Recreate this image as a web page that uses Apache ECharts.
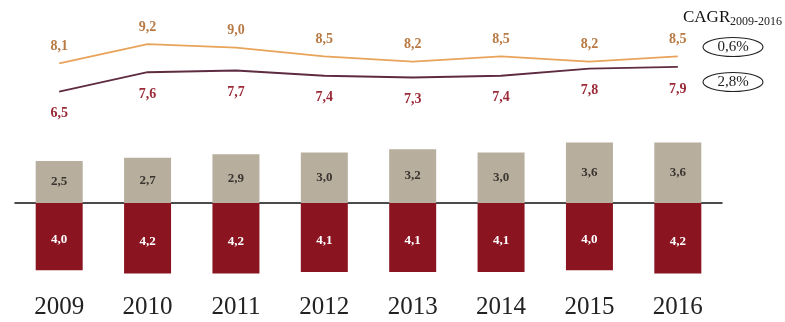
<!DOCTYPE html>
<html>
<head>
<meta charset="utf-8">
<script src="https://cdn.jsdelivr.net/npm/echarts@6/dist/echarts.min.js"></script>
<style>
  html, body { margin: 0; padding: 0; background: #fff; }
  #main { width: 785px; height: 322px; }
</style>
</head>
<body>
<div id="main"></div>
<script>
  // data
  const years = ["2009", "2010", "2011", "2012", "2013", "2014", "2015", "2016"];
  const upperLine = [8.1, 9.2, 9.0, 8.5, 8.2, 8.5, 8.2, 8.5];
  const lowerLine = [6.5, 7.6, 7.7, 7.4, 7.3, 7.4, 7.8, 7.9];
  const grayBars = [2.5, 2.7, 2.9, 3.0, 3.2, 3.0, 3.6, 3.6];
  const redBars = [4.0, 4.2, 4.2, 4.1, 4.1, 4.1, 4.0, 4.2];
  const cagrLabels = ["0,6%", "2,8%"];

  const fmt = (v) => Math.abs(v).toFixed(1).replace(".", ",");
  const serif = "Liberation Serif";

  let chart = echarts.init(document.getElementById("main"));

  function ring(y, text) {
    return [
      {
        type: "ellipse",
        shape: { cx: 733, cy: y, rx: 30, ry: 9.5 },
        style: { fill: "none", stroke: "#222", lineWidth: 1.1 },
      },
      {
        type: "text", x: 733, y: y,
        style: { text: text, font: "15px " + serif, fill: "#222", align: "center", verticalAlign: "middle" },
      },
    ];
  }

  chart.setOption({
    animation: false,
    grid: [
      { left: 15, right: 63, top: 30, height: 88 },
      { left: 15, right: 63, top: 119, height: 168 },
    ],
    xAxis: [
      {
        type: "category", gridIndex: 0, data: years, show: false,
      },
      {
        type: "category", gridIndex: 1, data: years,
        axisLine: { onZero: true, lineStyle: { color: "#111", width: 1.5 } },
        axisTick: { show: false },
        axisLabel: { show: false },
      },
      {
        // year labels along the bottom
        type: "category", gridIndex: 1, data: years, position: "bottom",
        axisLine: { show: false }, axisTick: { show: false },
        axisLabel: {
          margin: 8, fontFamily: serif, fontSize: 25, color: "#222",
        },
      },
    ],
    yAxis: [
      { type: "value", gridIndex: 0, min: 5, max: 10, show: false },
      { type: "value", gridIndex: 1, min: -5, max: 5, show: false },
    ],
    series: [
      {
        type: "line", xAxisIndex: 0, yAxisIndex: 0, data: upperLine,
        symbol: "circle", symbolSize: 2, showSymbol: true,
        itemStyle: { color: "transparent" },
        lineStyle: { color: "#e9a35a", width: 1.8 },
        label: {
          show: true, position: "top", distance: 9,
          formatter: (p) => fmt(p.value),
          fontFamily: serif, fontWeight: "bold", fontSize: 14, color: "#b87a45",
        },
      },
      {
        type: "line", xAxisIndex: 0, yAxisIndex: 0, data: lowerLine,
        symbol: "circle", symbolSize: 2, showSymbol: true,
        itemStyle: { color: "transparent" },
        lineStyle: { color: "#5e2b40", width: 1.8 },
        label: {
          show: true, position: "bottom", distance: 14,
          formatter: (p) => fmt(p.value),
          fontFamily: serif, fontWeight: "bold", fontSize: 14, color: "#9b2a38",
        },
      },
      {
        type: "bar", xAxisIndex: 1, yAxisIndex: 1, data: grayBars,
        stack: "a", barWidth: 47,
        itemStyle: { color: "#b7ae9d" },
        label: {
          show: true, position: "inside",
          formatter: (p) => fmt(p.value),
          fontFamily: serif, fontWeight: "bold", fontSize: 13, color: "#3a3530",
        },
      },
      {
        type: "bar", xAxisIndex: 1, yAxisIndex: 1,
        data: redBars.map((v) => -v),
        stack: "a", barWidth: 47,
        itemStyle: { color: "#8a1521" },
        label: {
          show: true, position: "inside", offset: [0, 3],
          formatter: (p) => fmt(p.value),
          fontFamily: serif, fontWeight: "bold", fontSize: 13, color: "#fff",
        },
      },
    ],
    graphic: [
      {
        type: "text", left: 683, top: 9,
        style: { text: "CAGR", font: "17px " + serif, fill: "#111" },
      },
      {
        type: "text", x: 730, y: 16,
        style: { text: "2009-2016", font: "12px " + serif, fill: "#222" },
      },
    ].concat(ring(47, cagrLabels[0]), ring(82, cagrLabels[1])),
  });
</script>
</body>
</html>
